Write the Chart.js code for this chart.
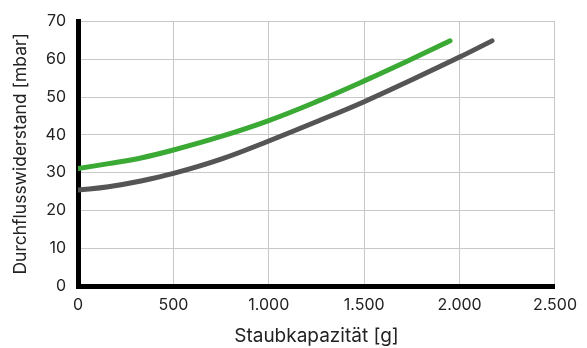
<!DOCTYPE html>
<html>
<head>
<meta charset="utf-8">
<script src="https://cdn.jsdelivr.net/npm/chart.js@4"></script>
<style>
html,body{margin:0;padding:0;background:#fff;}
#wrap{width:587px;height:348px;position:relative;}
</style>
</head>
<body>
<div id="wrap"><canvas id="c" width="587" height="348"></canvas></div>
<script>
const xTicks = [0, 500, 1000, 1500, 2000, 2500];
const yTicks = [0, 10, 20, 30, 40, 50, 60, 70];
const greenX = [0, 160, 330, 500, 750, 1000, 1250, 1500, 1750, 1950];
const greenY = [31.1, 32.4, 33.9, 36.0, 39.6, 43.8, 48.8, 54.3, 60.1, 64.9];
const grayX = [0, 160, 330, 500, 750, 1000, 1250, 1500, 1750, 2000, 2170];
const grayY = [25.4, 26.3, 27.8, 29.8, 33.6, 38.4, 43.5, 48.8, 54.6, 60.6, 64.9];
const xTitle = 'Staubkapazität [g]';
const yTitle = 'Durchflusswiderstand [mbar]';

const toPts = (xs, ys) => xs.map((x, i) => ({x: x, y: ys[i]}));
const FONT = 'Inter';

new Chart(document.getElementById('c'), {
  type: 'line',
  data: {
    datasets: [
      {data: toPts(grayX, grayY), borderColor: '#555555', borderWidth: 5, pointRadius: 0, tension: 0.4, borderCapStyle: 'round', fill: false},
      {data: toPts(greenX, greenY), borderColor: '#3aaa35', borderWidth: 5, pointRadius: 0, tension: 0.4, borderCapStyle: 'round', fill: false}
    ]
  },
  options: {
    responsive: false,
    animation: false,
    layout: {padding: {left: 0, right: 31, top: 17, bottom: 0}},
    plugins: {legend: {display: false}, tooltip: {enabled: false}},
    scales: {
      x: {
        type: 'linear', min: 0, max: 2500,
        afterBuildTicks: s => { s.ticks = xTicks.map(v => ({value: v})); },
        afterFit: s => { s.height = 62; },
        grid: {color: '#c8c8c8', lineWidth: 1, drawTicks: false},
        border: {color: '#000', width: 5},
        ticks: {padding: 10, color: '#222', font: {family: FONT, size: 16},
          callback: v => v.toLocaleString('de-DE')},
        title: {display: true, text: xTitle, color: '#222', font: {family: FONT, size: 19}, padding: {top: 17, bottom: 0}}
      },
      y: {
        type: 'linear', min: 0, max: 70,
        afterBuildTicks: s => { s.ticks = yTicks.map(v => ({value: v})); },
        afterFit: s => { s.width = 78; },
        grid: {color: '#c8c8c8', lineWidth: 1, drawTicks: false},
        border: {color: '#000', width: 5},
        ticks: {padding: 12, color: '#222', font: {family: FONT, size: 16}},
        title: {display: true, text: yTitle, color: '#222', font: {family: FONT, size: 17.5}, padding: {top: 10, bottom: 0}}
      }
    }
  }
});
</script>
</body>
</html>
